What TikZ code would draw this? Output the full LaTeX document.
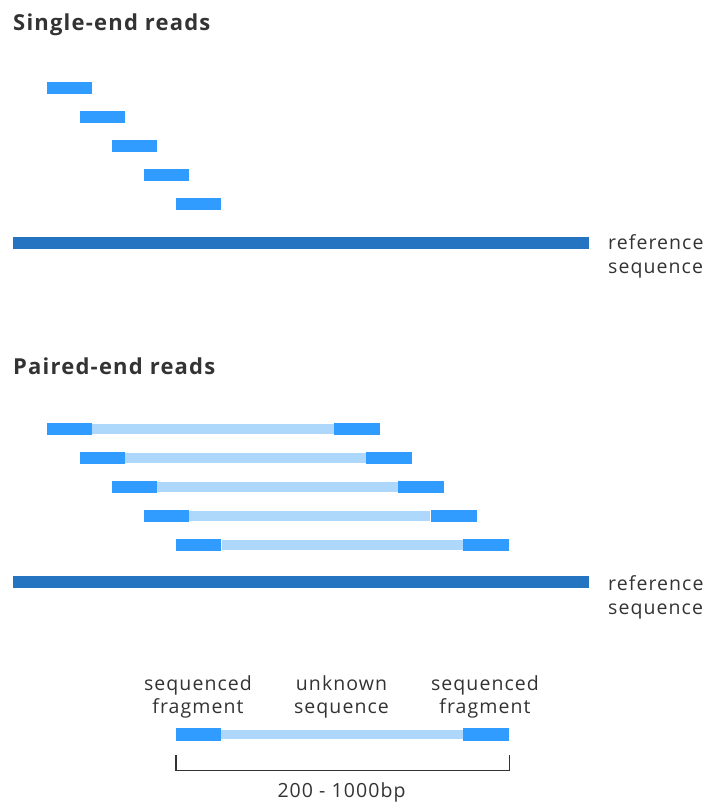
\documentclass[tikz,border=0pt]{standalone}
\usepackage{fontspec}
\setmainfont{Open Sans}[LetterSpace=5.5]
\usetikzlibrary{positioning}

\definecolor{readblue}{HTML}{309CFF}
\definecolor{refblue}{HTML}{2474C2}
\definecolor{gapblue}{HTML}{ADD7FB}
\definecolor{textgrey}{HTML}{333333}

\tikzset{
  read/.style={fill=readblue, inner sep=0pt, minimum width=45pt, minimum height=12.5pt, anchor=west},
  refseq/.style={fill=refblue, inner sep=0pt, minimum width=576pt, minimum height=12pt, anchor=west},
  gap/.style={draw=gapblue, line width=9.5pt},
  heading/.style={font=\fontsize{22}{26}\selectfont\bfseries, text=textgrey, anchor=west, inner sep=0pt},
  desc/.style={font=\fontsize{19.5}{23.5}\selectfont, text=textgrey, inner sep=0pt},
  bracket/.style={draw=textgrey, line width=1.2pt}
}

\begin{document}
\begin{tikzpicture}[x=1pt, y=-1pt]
  \useasboundingbox (0,0) rectangle (713,808);

  % single-end
  \node[heading] at (13, 25) (single_title) {Single-end reads};
  \foreach \i in {0,...,4}
    \node[read] at (47+32.3*\i, 88+29*\i) (single\i) {};
  \node[refseq] at (13, 242.5) (ref_single) {};
  \node[desc, align=left, anchor=west] at (608, 256.5) (ref_single_txt) {reference\\sequence};

  % paired-end
  \node[heading] at (13, 366) (paired_title) {Paired-end reads};
  \foreach \i in {0,...,4} {
    \node[read] at (47+32.3*\i, 429+29*\i) (pl\i) {};
    \node[read, minimum width=46pt] at (333.5+32.3*\i, 429+29*\i) (pr\i) {};
    \draw[gap] (pl\i.east) -- (pr\i.west);
  }
  \node[refseq] at (13, 582) (ref_paired) {};
  \node[desc, align=left, anchor=west] at (608, 597.5) (ref_paired_txt) {reference\\sequence};

  % legend
  \node[read] at (176, 734.5) (leg_l) {};
  \node[read, minimum width=46.5pt] at (462.5, 734.5) (leg_r) {};
  \draw[gap] (leg_l.east) -- (leg_r.west);
  \node[desc, align=center] at (198, 697) (leg_l_txt) {sequenced\\fragment};
  \node[desc, align=center] at (341.5, 697) (leg_gap_txt) {unknown\\sequence};
  \node[desc, align=center] at (485, 697) (leg_r_txt) {sequenced\\fragment};

  \coordinate (brk_l) at ([yshift=-14.5pt]leg_l.south west);
  \coordinate (brk_r) at ([yshift=-14.5pt]leg_r.south east);
  \draw[bracket] (brk_l) -- ++(0,15) -| (brk_r);
  \node[desc] at (341.5, 792) (span_txt) {200 - 1000bp};
\end{tikzpicture}
\end{document}
